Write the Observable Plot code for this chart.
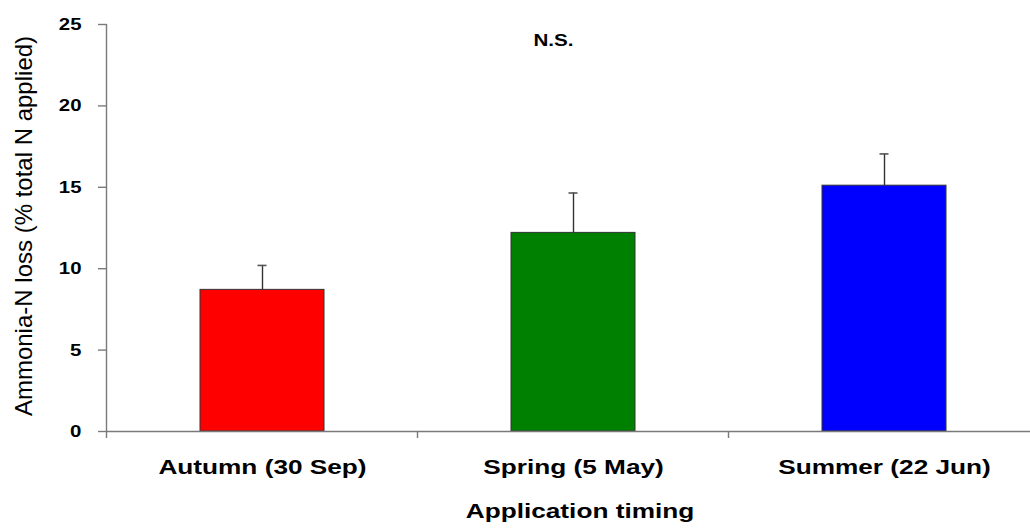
<!DOCTYPE html>
<html>
<head>
<meta charset="utf-8">
<script src="https://cdn.jsdelivr.net/npm/d3@7"></script>
<script src="https://cdn.jsdelivr.net/npm/@observablehq/plot@0.6"></script>
<style>
  html, body { margin: 0; padding: 0; background: #ffffff; }
  #chart svg { display: block; }
</style>
</head>
<body>
<div id="chart"></div>
<script>
// ---- data ----
const categories = ["Autumn (30 Sep)", "Spring (5 May)", "Summer (22 Jun)"];
const values = [8.7, 12.2, 15.1];
const errors = [1.5, 2.45, 1.95];
const colors = ["#ff0000", "#008000", "#0000ff"];
const yTicks = [0, 5, 10, 15, 20, 25];
const yLabel = "Ammonia-N loss (% total N applied)";
const xLabel = "Application timing";
const note = "N.S.";

const rows = categories.map((c, i) => ({cat: c, value: values[i], se: errors[i], color: colors[i]}));

const axisColor = "#7a7a7a";
const font = "'Liberation Sans', Arial, Helvetica, sans-serif";

// axis lines and category boundary ticks, positioned from the scales
function axisFrame(index, scales) {
  const x = scales.x, y = scales.y;
  const bw = typeof x.bandwidth === "function" ? x.bandwidth() : x.bandwidth;
  let st = typeof x.step === "function" ? x.step() : x.step;
  if (st == null) st = x(categories[1]) - x(categories[0]);
  const y0 = y(0), yTop = y(d3.max(yTicks));
  const xLeft = x(categories[0]) - (st - bw) / 2;
  const g = d3.create("svg:g").attr("stroke", axisColor).attr("stroke-width", 1.4).attr("fill", "none");
  g.append("line").attr("x1", xLeft).attr("x2", xLeft).attr("y1", yTop).attr("y2", y0);
  for (let i = 0; i <= categories.length; i++) {
    const bx = xLeft + i * st;
    g.append("line").attr("x1", bx).attr("x2", bx).attr("y1", y0).attr("y2", y0 + 7);
  }
  return g.node();
}

const chart = Plot.plot({
  width: 1030,
  height: 529,
  marginTop: 24,
  marginBottom: 98,
  marginLeft: 107,
  marginRight: 0,
  style: {fontFamily: font, background: "#ffffff", color: "#000000", overflow: "hidden"},
  x: {type: "band", domain: categories, range: [107, 1040], paddingInner: 0.6, paddingOuter: 0.3, label: null},
  y: {domain: [0, 25], label: null},
  color: {type: "identity"},
  marks: [
    Plot.barY(rows, {x: "cat", y: "value", fill: "color", stroke: "#333333", strokeWidth: 1}),
    Plot.ruleX(rows, {x: "cat", y1: "value", y2: d => d.value + d.se, stroke: "#333333", strokeWidth: 1.4}),
    Plot.tickY(rows, {x: "cat", y: d => d.value + d.se, stroke: "#555555", strokeWidth: 1.6, insetLeft: 57.5, insetRight: 57.5}),
    Plot.ruleY([0], {stroke: axisColor, strokeWidth: 1.4}),
    axisFrame,
    Plot.axisY({ticks: yTicks, tickSize: 9, tickPadding: 17, fontSize: 17, fontWeight: "bold", stroke: axisColor, strokeWidth: 1.4, label: null}),
    Plot.axisX({tickSize: 0, tickPadding: 28, fontSize: 20, fontWeight: "bold", label: null}),
    Plot.text([yLabel], {frameAnchor: "left", textAnchor: "middle", dx: -83, dy: -2, rotate: -90, fontSize: 24, fill: "#000000"}),
    Plot.text([note], {frameAnchor: "top", dx: -15.5, dy: 10, fontSize: 16.5, fontWeight: "bold", fill: "#000000"}),
    Plot.text([xLabel], {frameAnchor: "bottom", dx: 11, dy: 86, fontSize: 20, fontWeight: "bold", fill: "#000000"})
  ]
});

document.getElementById("chart").appendChild(chart);

// widen the bold horizontal texts to match the reference's letter widths
chart.querySelectorAll("text").forEach(t => {
  const s = t.textContent.trim();
  if (s === yLabel) return;
  const factor = /^\d+$/.test(s) ? 1.2 : (s === note ? 1.25 : 1.31);
  const len = t.getComputedTextLength();
  if (len > 0) {
    t.setAttribute("textLength", (len * factor).toFixed(1));
    t.setAttribute("lengthAdjust", "spacingAndGlyphs");
  }
});
</script>
</body>
</html>
